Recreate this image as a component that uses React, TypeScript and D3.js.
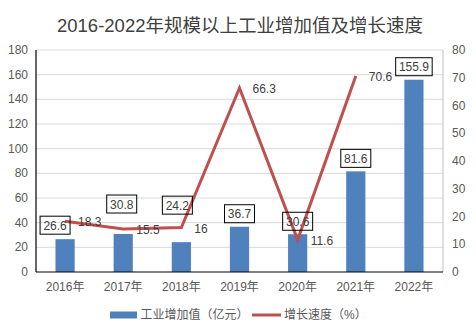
import React from "react";
import * as d3 from "d3";

const years = ["2016年", "2017年", "2018年", "2019年", "2020年", "2021年", "2022年"];
const valueAdded = [26.6, 30.8, 24.2, 36.7, 30.6, 81.6, 155.9];
const growthYears = ["2016年", "2017年", "2018年", "2019年", "2020年", "2021年"];
const growthRate = [18.3, 15.5, 16, 66.3, 11.6, 70.6];
const leftTicks = [0, 20, 40, 60, 80, 100, 120, 140, 160, 180];
const rightTicks = [0, 10, 20, 30, 40, 50, 60, 70, 80];
const title = "2016-2022年规模以上工业增加值及增长速度";
const legendBar = "工业增加值（亿元）";
const legendLine = "增长速度（%）";
// manual nudges of bar value labels (dx, dy) as in the reference
const labelNudge: [number, number][] = [[-10, -1], [-1.5, -17], [-4, -24], [0, 0], [0, 0], [0, 0], [0, 0]];

const W = 476, H = 336;
const left = 36, right = 443, top = 50, bottom = 272;
const FONT = "'Liberation Sans', 'Noto Sans CJK SC', sans-serif";
const BLUE = "#4F81BD";
const RED = "#C0504D";
const TXT = "#595959";

export default function App() {
  const x = d3.scaleBand<string>().domain(years).range([left, right]).paddingInner(0.67).paddingOuter(0.335);
  const yL = d3.scaleLinear().domain([0, 180]).range([bottom, top]);
  const yR = d3.scaleLinear().domain([0, 80]).range([bottom, top]);
  const bw = x.bandwidth();
  const cx = (d: string) => (x(d) as number) + bw / 2;
  const line = d3.line<number>().x((_, i) => cx(growthYears[i])).y((d) => yR(d));

  return (
    <svg width={W} height={H} style={{ position: "absolute", left: 0, top: 0, fontFamily: FONT }}>
      <rect width={W} height={H} fill="#fff" />
      <text x={240} y={25} textAnchor="middle" dominantBaseline="central" fontSize={18.5} fill="#404040">{title}</text>
      {leftTicks.filter((t) => t > 0).map((t) => (
        <line key={t} x1={left} x2={right} y1={yL(t)} y2={yL(t)} stroke="#D9D9D9" strokeWidth={1} />
      ))}
      <line x1={right} x2={right} y1={top} y2={bottom} stroke="#BFBFBF" strokeWidth={1} />
      {leftTicks.map((t) => (
        <text key={t} x={28} y={yL(t)} textAnchor="end" dominantBaseline="central" fontSize={12} fill={TXT}>{t}</text>
      ))}
      {rightTicks.map((t) => (
        <text key={t} x={452} y={yR(t)} textAnchor="start" dominantBaseline="central" fontSize={12} fill={TXT}>{t}</text>
      ))}
      {valueAdded.map((v, i) => (
        <rect key={i} x={x(years[i])} y={yL(v)} width={bw} height={bottom - yL(v)} fill={BLUE} />
      ))}
      <line x1={left} x2={left} y1={top} y2={bottom} stroke="#000" strokeWidth={1.2} />
      <line x1={left} x2={right} y1={bottom} y2={bottom} stroke="#000" strokeWidth={1.2} />
      {years.map((yv) => (
        <text key={yv} x={cx(yv)} y={287} textAnchor="middle" dominantBaseline="central" fontSize={12} fill={TXT}>{yv}</text>
      ))}
      <path d={line(growthRate) || ""} fill="none" stroke={RED} strokeWidth={3} strokeLinejoin="miter" />
      {growthRate.map((g, i) => (
        <text key={i} x={cx(growthYears[i]) + 13} y={yR(g) + 1} dominantBaseline="central" fontSize={12} fill="#404040">{g}</text>
      ))}
      {valueAdded.map((v, i) => {
        const label = String(v);
        const w = label.length * 6.5 + 4;
        const h = 18;
        const mx = cx(years[i]) + labelNudge[i][0];
        const my = yL(v) - 13 + labelNudge[i][1];
        return (
          <g key={i}>
            <rect x={mx - w / 2} y={my - h / 2} width={w} height={h} fill="none" stroke="#000" strokeWidth={1} />
            <text x={mx} y={my + 0.5} textAnchor="middle" dominantBaseline="central" fontSize={12} fill="#404040">{label}</text>
          </g>
        );
      })}
      <rect x={110} y={311.5} width={27} height={7} fill={BLUE} />
      <text x={140.5} y={315} dominantBaseline="central" fontSize={12} fill={TXT}>{legendBar}</text>
      <line x1={252} x2={281} y1={315} y2={315} stroke={RED} strokeWidth={3} />
      <text x={284} y={315} dominantBaseline="central" fontSize={12} fill={TXT}>{legendLine}</text>
    </svg>
  );
}
